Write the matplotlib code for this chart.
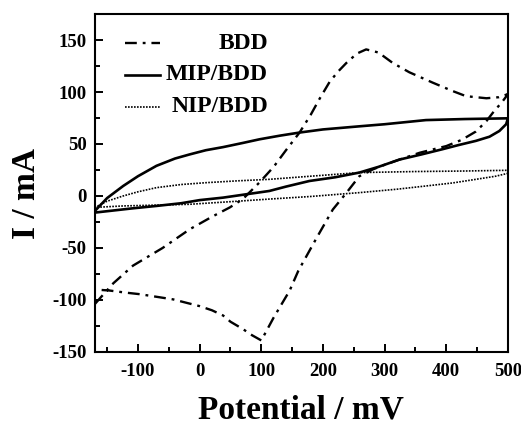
import numpy as np
import matplotlib
matplotlib.use('Agg')
import matplotlib.pyplot as plt
from matplotlib.ticker import MultipleLocator

plt.rcParams['font.family'] = ['Liberation Serif', 'DejaVu Serif']
plt.rcParams['font.weight'] = 'bold'
plt.rcParams['axes.unicode_minus'] = False

# cyclic voltammograms: forward sweep -170 -> 500 mV, then back
bdd_fwd_x = [-170, -140, -108, -60, -16, 20, 49, 70, 97, 120, 140, 162, 180, 194,
             211, 225, 238, 255, 270, 290, 313, 340, 378, 410, 432, 465, 485, 500]
bdd_fwd_y = [-104, -84, -67, -50, -32, -20, -11, -3, 13, 28, 44, 61, 78, 93,
             110, 120, 128, 137, 141, 138, 128, 119, 109, 101, 96, 94, 95, 98]
bdd_rev_x = [500, 490, 478, 465, 448, 425, 400, 357, 324, 300, 281, 259, 238, 216,
             190, 160, 146, 120, 100, 85, 70, 50, 38, 20, 0, -20, -43, -70, -97,
             -120, -146, -170]
bdd_rev_y = [98, 90, 82, 72, 62, 54, 48, 41.6, 35, 30, 25.6, 19, 3, -13,
             -40, -72, -91, -117, -139, -134, -128, -121, -115, -110, -106, -103,
             -99.5, -97, -94.5, -93, -91, -90]

mip_fwd_x = [-170, -150, -124, -100, -70, -40, -16, 10, 38, 70, 97, 130, 162, 200,
             259, 300, 367, 430, 500]
mip_fwd_y = [-14.5, -2, 9.6, 19, 29, 36, 40, 44, 47, 51, 54.5, 58, 61, 64,
             67, 69, 73, 74, 74.7]
mip_rev_x = [500, 497, 486, 470, 448, 420, 394, 360, 324, 290, 259, 220, 178, 140,
             113, 80, 38, 0, -30, -70, -110, -140, -170]
mip_rev_y = [74.7, 69, 62.5, 57, 53, 49, 45, 40, 35, 28, 22.5, 18, 14.4, 9,
             4.8, 2, -1.6, -4, -7, -9.6, -12, -14, -16]

nip_fwd_x = [-170, -150, -124, -100, -70, -30, 11, 60, 113, 180, 259, 350, 430, 500]
nip_fwd_y = [-11, -5, 0, 4, 8, 11, 12.8, 14.5, 16, 19, 22.5, 23.5, 24, 24.7]
nip_rev_x = [500, 480, 448, 410, 367, 320, 259, 180, 113, 50, -16, -70, -124, -170]
nip_rev_y = [21.8, 19, 16, 12.5, 9.6, 6.5, 3.2, -0.5, -3, -5.5, -8, -8.8, -9.6, -11]

labels = ['BDD', 'MIP/BDD', 'NIP/BDD']

fig = plt.figure(figsize=(5.21, 4.26), dpi=100)
ax = fig.add_axes([0.182, 0.174, 0.793, 0.793])

bdd_style = dict(color='k', lw=1.7, linestyle=(0, (5, 2.5, 1.2, 2.5)))
mip_style = dict(color='k', lw=1.9, linestyle='-')
nip_style = dict(color='k', lw=1.2, linestyle=(0, (1, 0.8)))

ax.plot(bdd_fwd_x + bdd_rev_x, bdd_fwd_y + bdd_rev_y, **bdd_style)
ax.plot(mip_fwd_x + mip_rev_x, mip_fwd_y + mip_rev_y, **mip_style)
ax.plot(nip_fwd_x + nip_rev_x, nip_fwd_y + nip_rev_y, **nip_style)

# legend: short line on the left, right aligned label
for i, (lab, st) in enumerate(zip(labels, [bdd_style, mip_style, nip_style])):
    yy = 0.914 - i * 0.094
    ax.plot([0.073, 0.157], [yy, yy], transform=ax.transAxes, **st)
    ax.text(0.419, yy, lab, transform=ax.transAxes, ha='right', va='center',
            fontsize=17, fontweight='bold')

ax.set_xlim(-170, 500)
ax.set_ylim(-150, 175)
ax.xaxis.set_major_locator(MultipleLocator(100))
ax.xaxis.set_minor_locator(MultipleLocator(50))
ax.yaxis.set_major_locator(MultipleLocator(50))
ax.yaxis.set_minor_locator(MultipleLocator(25))
ax.tick_params(which='both', direction='in', top=False, right=False, width=1.4)
ax.tick_params(which='major', length=6, labelsize=13.5, pad=6)
ax.tick_params(axis='x', which='major', pad=8)
ax.tick_params(which='minor', length=3.5)
for lab in ax.get_xticklabels() + ax.get_yticklabels():
    lab.set_fontweight('bold')
for sp in ax.spines.values():
    sp.set_linewidth(1.5)

ax.set_xlabel('Potential / mV', fontsize=24, fontweight='bold', va='baseline')
ax.xaxis.set_label_coords(0.5, -0.198)
ax.set_ylabel('I / mA', fontsize=24, fontweight='bold', va='center')
ax.yaxis.set_label_coords(-0.165, 0.47)

fig.savefig('out.png', dpi=100)
